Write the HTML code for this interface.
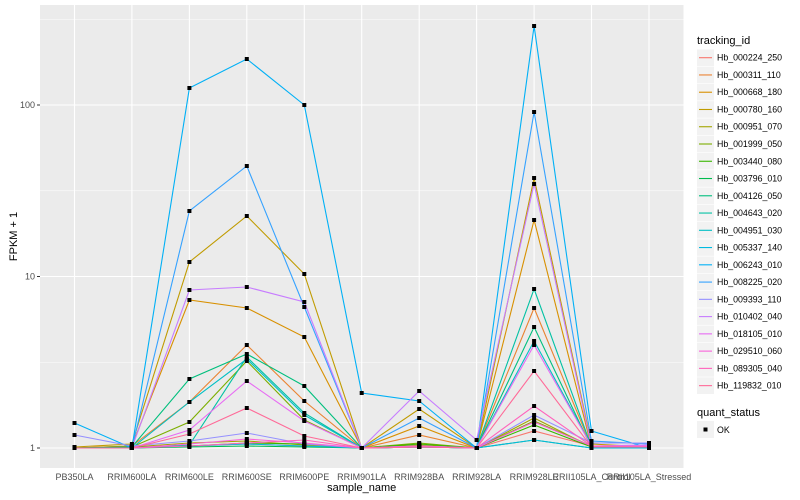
<!DOCTYPE html>
<html><head><meta charset="utf-8"><style>body{margin:0;background:#fff}svg{display:block;font-family:"Liberation Sans",sans-serif}</style></head><body>
<svg width="800" height="500" xmlns="http://www.w3.org/2000/svg">
<rect x="40" y="5" width="643.5" height="463" fill="#ebebeb"/>
<g stroke="#fff" stroke-width="0.5">
<line x1="40" x2="683.5" y1="19.3" y2="19.3"/><line x1="40" x2="683.5" y1="190.8" y2="190.8"/><line x1="40" x2="683.5" y1="362.3" y2="362.3"/>
</g>
<g stroke="#fff" stroke-width="1.1">
<line x1="40" x2="683.5" y1="105" y2="105"/><line x1="40" x2="683.5" y1="276.5" y2="276.5"/><line x1="40" x2="683.5" y1="448" y2="448"/>
<line y1="5" y2="468" x1="74.5" x2="74.5"/><line y1="5" y2="468" x1="131.9" x2="131.9"/><line y1="5" y2="468" x1="189.4" x2="189.4"/><line y1="5" y2="468" x1="246.8" x2="246.8"/><line y1="5" y2="468" x1="304.3" x2="304.3"/><line y1="5" y2="468" x1="361.7" x2="361.7"/><line y1="5" y2="468" x1="419.2" x2="419.2"/><line y1="5" y2="468" x1="476.6" x2="476.6"/><line y1="5" y2="468" x1="534.1" x2="534.1"/><line y1="5" y2="468" x1="591.5" x2="591.5"/><line y1="5" y2="468" x1="649" x2="649"/>
</g>
<g fill="none" stroke-width="1.1" id="lines"></g>
<g id="pts" fill="#000"></g>
<g stroke="#333" stroke-width="1">
<line x1="37" x2="40" y1="105" y2="105"/><line x1="37" x2="40" y1="276.5" y2="276.5"/><line x1="37" x2="40" y1="448" y2="448"/>
</g>
<g font-size="9" fill="#4d4d4d" text-anchor="end">
<text x="35" y="108">100</text><text x="35" y="279.5">10</text><text x="35" y="451">1</text>
</g>
<g font-size="9" fill="#4d4d4d" text-anchor="middle">
<text x="74.5" y="480">PB350LA</text><text x="131.9" y="480">RRIM600LA</text><text x="189.4" y="480">RRIM600LE</text><text x="246.8" y="480">RRIM600SE</text><text x="304.3" y="480">RRIM600PE</text><text x="361.7" y="480">RRIM901LA</text><text x="419.2" y="480">RRIM928BA</text><text x="476.6" y="480">RRIM928LA</text><text x="534.1" y="480">RRIM928LE</text><text x="591.5" y="480">RRII105LA_Control</text><text x="649" y="480">RRII105LA_Stressed</text>
</g>
<text x="361.7" y="491" font-size="11" text-anchor="middle">sample_name</text>
<text transform="translate(17,236.5) rotate(-90)" font-size="11" text-anchor="middle">FPKM + 1</text>
<text x="697" y="44" font-size="11">tracking_id</text>
<g id="leg" font-size="8.8"></g>
<text x="697" y="416" font-size="11">quant_status</text>
<rect x="697" y="421" width="17" height="17" fill="#f2f2f2"/><rect x="703.5" y="427.5" width="4" height="4" fill="#000"/>
<text x="717" y="433" font-size="8.8">OK</text>
<script>
var X=[74.5,131.9,189.4,246.8,304.3,361.7,419.2,476.6,534.1,591.5,649];
var S=[
["#F8766D","Hb_000224_250",[448,448,446,444,446,448,447,448,431,446,448]],
["#EA8331","Hb_000311_110",[448,446,402,345,401,448,435,448,308,447,447]],
["#D89000","Hb_000668_180",[448,446,300,308,337,448,426,448,220,447,446]],
["#C09B00","Hb_000780_160",[447,444,262,216,274,448,409,448,178,444,447]],
["#A3A500","Hb_000951_070",[448,447,443,441,445,448,445,448,418,447,447]],
["#7CAE00","Hb_001999_050",[448,447,422,361,420,448,443,448,421,446,448]],
["#39B600","Hb_003440_080",[448,447,446,443,444,448,444,448,425,447,448]],
["#00BB4E","Hb_003796_010",[448,448,447,446,447,448,447,448,440,448,448]],
["#00BF7D","Hb_004126_050",[448,447,379,354,386,448,446,448,327,448,448]],
["#00C1A3","Hb_004643_020",[448,448,445,357,413,448,447,448,289,447,447]],
["#00BFC4","Hb_004951_030",[448,448,402,359,415,448,447,448,341,446,447]],
["#00BAE0","Hb_005337_140",[448,448,446,444,446,448,447,448,440,448,448]],
["#00B0F6","Hb_006243_010",[423,448,88,59,105,393,401,448,26,431,448]],
["#35A2FF","Hb_008225_020",[448,448,211,166,307,448,418,448,112,441,444]],
["#9590FF","Hb_009393_110",[435,446,441,433,444,448,446,448,415,443,443]],
["#C77CFF","Hb_010402_040",[448,448,290,287,302,448,391,440,184,446,445]],
["#E76BF3","Hb_018105_010",[448,448,430,381,421,448,446,448,345,446,446]],
["#FA62DB","Hb_029510_060",[448,448,444,439,443,448,446,448,422,446,446]],
["#FF62BC","Hb_089305_040",[448,448,446,443,440,448,447,448,406,446,447]],
["#FF6A98","Hb_119832_010",[448,448,434,408,436,448,447,448,371,447,447]]];
var ns="http://www.w3.org/2000/svg",L=document.getElementById("lines"),P=document.getElementById("pts"),G=document.getElementById("leg");
S.forEach(function(s,k){var pl=document.createElementNS(ns,"polyline");pl.setAttribute("points",s[2].map(function(y,i){return X[i]+","+y}).join(" "));pl.setAttribute("stroke",s[0]);L.appendChild(pl);
s[2].forEach(function(y,i){var c=document.createElementNS(ns,"rect");c.setAttribute("x",X[i]-2);c.setAttribute("y",y-2);c.setAttribute("width",4);c.setAttribute("height",4);P.appendChild(c);});
var cy=57.7+k*17.26;var r=document.createElementNS(ns,"rect");r.setAttribute("x",697);r.setAttribute("y",cy-8.3);r.setAttribute("width",17);r.setAttribute("height",16.6);r.setAttribute("fill","#f2f2f2");G.appendChild(r);
var l=document.createElementNS(ns,"line");l.setAttribute("x1",699);l.setAttribute("x2",712);l.setAttribute("y1",cy);l.setAttribute("y2",cy);l.setAttribute("stroke",s[0]);l.setAttribute("stroke-width",1.1);G.appendChild(l);
var t=document.createElementNS(ns,"text");t.setAttribute("x",717);t.setAttribute("y",cy+3);t.textContent=s[1];G.appendChild(t);});
</script>
</svg>
</body></html>
